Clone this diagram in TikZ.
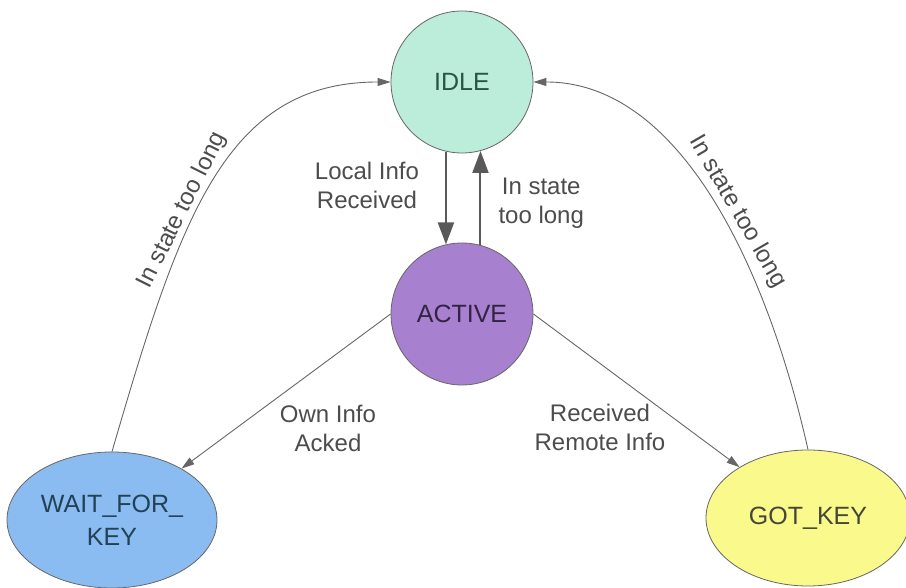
\documentclass[tikz,border=0pt]{standalone}
\usepackage{fontspec}
\setmainfont{Liberation Sans}
\usetikzlibrary{arrows.meta,shapes.geometric}
\definecolor{idlefill}{RGB}{188,236,218}
\definecolor{activefill}{RGB}{168,128,208}
\definecolor{waitfill}{RGB}{138,188,242}
\definecolor{gotfill}{RGB}{250,250,140}
\definecolor{idletext}{RGB}{40,85,70}
\definecolor{activetext}{RGB}{50,35,65}
\definecolor{waittext}{RGB}{35,65,85}
\definecolor{gottext}{RGB}{70,70,55}

\begin{document}
\begin{tikzpicture}[x=1pt,y=1pt,
  state/.style={draw=black!60,line width=0.8pt,font=\fontsize{25}{33}\selectfont,align=center,inner sep=0pt},
  circ/.style={state,circle,minimum size=142pt},
  oval/.style={state,ellipse,minimum width=210pt,minimum height=136pt},
  edge/.style={draw=black!60,line width=0.9pt,-{Triangle[length=13pt,width=8pt]}},
  bigedge/.style={draw=black!65,line width=2pt,-{Triangle[length=22pt,width=16pt]}},
  lbl/.style={text=black!70,font=\fontsize{24}{29}\selectfont,align=center}]
  \useasboundingbox (0,0) rectangle (906,588);
  % states
  \node[circ,fill=idlefill,text=idletext] (idle) at (462,506) {IDLE};
  \node[circ,fill=activefill,text=activetext] (active) at (462,274) {ACTIVE};
  \node[oval,fill=waitfill,text=waittext] (wait) at (112,68) {WAIT\_FOR\_\\KEY};
  \node[oval,fill=gotfill,text=gottext,minimum width=204pt] (got) at (808,70) {GOT\_KEY};
  % idle <-> active
  \draw[bigedge] (idle.-103) -- (active.103);
  \draw[bigedge] (active.75) -- (idle.-75);
  % active -> wait / got
  \draw[edge] (active.west) -- (wait);
  \draw[edge] (active.east) -- (got);
  % timeouts back to idle
  \draw[edge] (wait.north) .. controls (180,370) and (225,506) .. (idle.west)
    node[lbl,pos=0.41,sloped,above=-2pt] {In state too long};
  \draw[edge] (got.north) .. controls (770,308) and (685,506) .. (idle.east)
    node[lbl,pos=0.46,sloped,above=1pt] {In state too long};
  % labels
  \node[lbl] (localinfo) at (367,403) {Local Info\\Received};
  \node[lbl,anchor=west] (toolong) at (495,385) {In state\\too long};
  \node[lbl] (ownacked) at (328,160) {Own Info\\Acked};
  \node[lbl] (remoteinfo) at (600,161) {Received\\Remote Info};
\end{tikzpicture}
\end{document}
